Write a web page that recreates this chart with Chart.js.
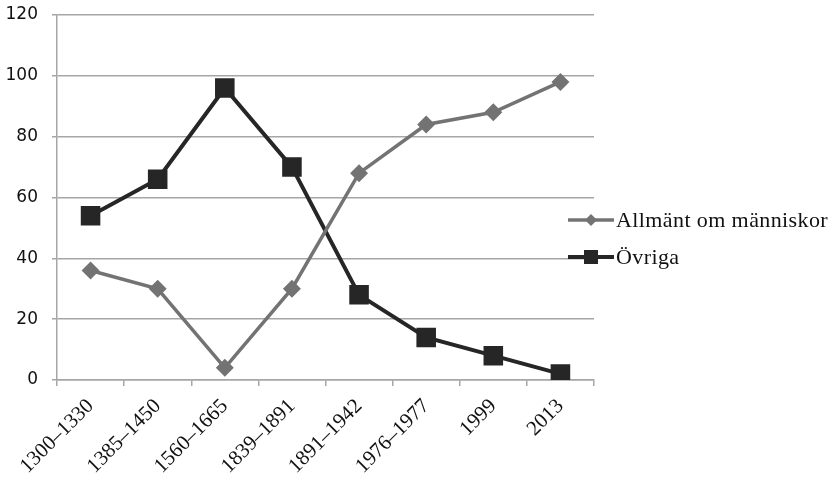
<!DOCTYPE html>
<html>
<head>
<meta charset="utf-8">
<script src="https://cdn.jsdelivr.net/npm/chart.js@4"></script>
<style>
  html, body { margin: 0; padding: 0; background: #fff; }
  #wrap { position: relative; width: 830px; height: 481px; }
  #legend { position: absolute; left: 568px; top: 201px; font-family: "Liberation Serif", serif; font-size: 22px; letter-spacing: 0.4px; color: #111; }
  #legend div { display: flex; align-items: center; height: 37px; }
  #legend svg { margin-right: 2px; }
</style>
</head>
<body>
<div id="wrap">
  <canvas id="chart" width="830" height="481"></canvas>
  <div id="legend">
    <div><svg width="46" height="14"><line x1="0" y1="7" x2="46" y2="7" stroke="#737373" stroke-width="3.5"/><polygon points="23,1 29,7 23,13 17,7" fill="#737373"/></svg><span>Allmänt om människor</span></div>
    <div><svg width="46" height="16"><line x1="0" y1="8" x2="46" y2="8" stroke="#262626" stroke-width="4"/><rect x="16" y="1" width="14" height="14" fill="#262626"/></svg><span>Övriga</span></div>
  </div>
</div>
<script>
// categories and values
const periods = ['1300–1330', '1385–1450', '1560–1665', '1839–1891', '1891–1942', '1976–1977', '1999', '2013'];
const allmant = [36, 30, 4, 30, 68, 84, 88, 98];
const ovriga = [54, 66, 96, 70, 28, 14, 8, 2];
const yTicks = [0, 20, 40, 60, 80, 100, 120];

const chart = new Chart(document.getElementById('chart'), {
    type: 'line',
    data: {
        labels: periods,
        datasets: [
            {
                label: 'Allmänt om människor',
                data: allmant,
                borderColor: '#737373',
                backgroundColor: '#737373',
                borderWidth: 3.5,
                pointStyle: 'rectRot',
                pointRadius: 6.5,
                pointHoverRadius: 6.5,
                tension: 0,
            },
            {
                label: 'Övriga',
                data: ovriga,
                borderColor: '#262626',
                backgroundColor: '#262626',
                borderWidth: 4,
                pointStyle: 'rect',
                pointRadius: 11,
                pointHoverRadius: 11,
                tension: 0,
            },
        ],
    },
    options: {
        responsive: false,
        animation: false,
        layout: { padding: { top: 14, right: 236, left: 0, bottom: 0 } },
        plugins: { legend: { display: false }, tooltip: { enabled: false } },
        scales: {
            x: {
                offset: true,
                grid: { drawOnChartArea: false, color: '#a6a6a6', lineWidth: 1.5, tickLength: 6, offset: true },
                border: { color: '#a6a6a6', width: 1.5 },
                ticks: {
                    color: '#111',
                    font: { family: 'Liberation Serif', size: 21 },
                    minRotation: 45,
                    maxRotation: 45,
                    autoSkip: false,
                    padding: 8,
                },
                afterFit: (scale) => { scale.height = 101; scale.paddingLeft = 0; scale.paddingRight = 0; },
            },
            y: {
                min: 0,
                max: 120,
                afterBuildTicks: (scale) => { scale.ticks = yTicks.map(v => ({ value: v })); },
                grid: { color: '#a6a6a6', lineWidth: 1.5, tickLength: 5 },
                border: { color: '#a6a6a6', width: 1.5 },
                ticks: {
                    color: '#111',
                    font: { family: 'DejaVu Sans', size: 17 },
                    padding: 14,
                },
                afterFit: (scale) => { scale.width = 57; scale.paddingTop = 0; scale.paddingBottom = 0; },
            },
        },
    },
});
</script>
</body>
</html>
